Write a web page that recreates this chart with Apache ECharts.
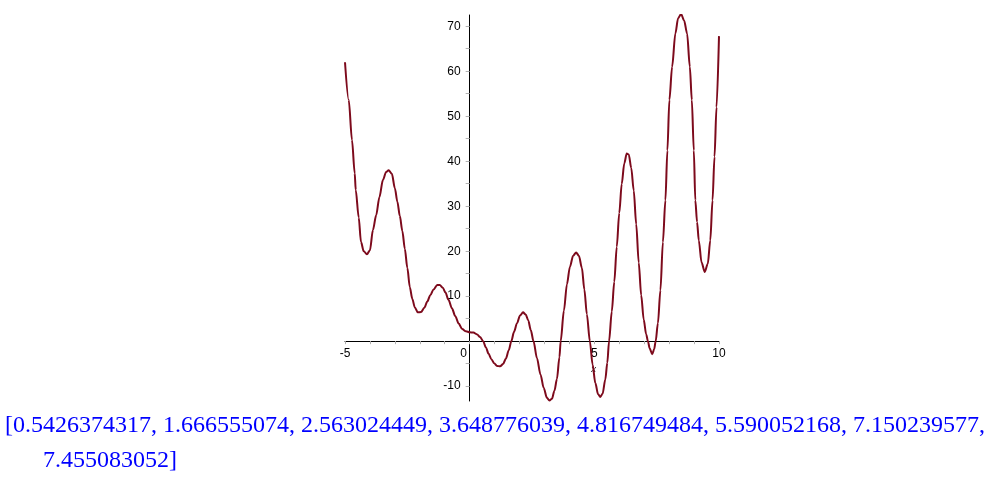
<!DOCTYPE html>
<html>
<head>
<meta charset="utf-8">
<script src="https://cdn.jsdelivr.net/npm/echarts@6/dist/echarts.min.js"></script>
<style>
html,body{margin:0;padding:0;background:#fff;}
#c{width:999px;height:478px;}
</style>
</head>
<body>
<div id="c"></div>
<script>
// x values of sampled curve points
var xValues = [-5.0,-4.85,-4.72,-4.61,-4.57,-4.45,-4.36,-4.25,-4.12,-4.0,-3.88,-3.75,-3.62,-3.48,-3.35,-3.25,-3.12,-3.0,-2.9,-2.8,-2.7,-2.6,-2.5,-2.4,-2.3,-2.2,-2.08,-1.95,-1.82,-1.7,-1.58,-1.45,-1.3,-1.2,-1.08,-0.97,-0.85,-0.71,-0.58,-0.44,-0.3,-0.15,0,0.15,0.3,0.42,0.54,0.65,0.76,0.87,0.98,1.1,1.22,1.34,1.45,1.57,1.67,1.78,1.9,2.02,2.14,2.25,2.35,2.45,2.56,2.7,2.84,2.97,3.1,3.2,3.3,3.4,3.5,3.6,3.65,3.78,3.9,4.02,4.15,4.27,4.38,4.5,4.6,4.7,4.82,4.93,5.04,5.15,5.24,5.33,5.44,5.52,5.59,5.7,5.8,5.9,6.0,6.1,6.2,6.3,6.38,6.48,6.58,6.68,6.78,6.88,6.98,7.08,7.15,7.22,7.32,7.4,7.46,7.55,7.65,7.75,7.85,7.93,8.01,8.12,8.25,8.36,8.48,8.6,8.72,8.83,8.91,8.99,9.05,9.12,9.19,9.3,9.43,9.55,9.65,9.74,9.82,9.9,10.0];
// y values of sampled curve points
var yValues = [62.0,53.6,44.7,37.3,33.6,27.5,22.1,20.0,19.3,20.2,24.7,28.0,32.0,35.8,37.6,38.0,37.2,34.0,31.0,27.8,24.5,20.5,16.3,12.0,9.4,7.5,6.4,6.5,7.4,8.8,10.2,11.5,12.5,12.5,11.9,10.8,9.2,7.3,5.6,3.9,2.7,2.2,2.0,1.9,1.5,0.9,0,-1.4,-2.8,-4.0,-4.9,-5.5,-5.6,-5.1,-3.9,-2.0,0,2.1,4.0,5.7,6.4,5.9,4.6,2.5,0,-3.8,-7.4,-10.4,-12.6,-13.2,-12.8,-11.0,-8.4,-3.6,0,6.8,12.6,16.5,19.0,19.7,19.0,16.3,11.5,6.0,0,-5.2,-9.3,-11.8,-12.4,-11.7,-8.5,-4.8,0,6.6,13.2,21.0,28.5,35.0,39.5,41.7,41.5,38.5,33.5,26.0,17.5,10.2,4.8,1.5,0,-1.6,-2.9,-1.8,0,4.0,11.3,22.0,31.3,42.4,53.6,61.0,68.4,71.8,72.7,71.3,68.4,61.0,53.6,42.4,31.3,26.5,22.4,17.5,15.4,17.2,22.4,31.3,41.0,52.0,67.8];
var xMin = -5, xMax = 10;
var yMin = -13.3, yMax = 72.5;
var xTickLabels = [-5, 0, 5, 10];
var yTickLabels = [-10, 10, 20, 30, 40, 50, 60, 70];
var yTicks = [-10, -5, 5, 10, 15, 20, 25, 30, 35, 40, 45, 50, 55, 60, 65, 70];
var rootsLine1 = '[0.5426374317, 1.666555074, 2.563024449, 3.648776039, 4.816749484, 5.590052168, 7.150239577,';
var rootsLine2 = '7.455083052]';

var data = xValues.map(function (x, i) { return [x, yValues[i]]; });

var W = 999, H = 478;
var grid = {left: 345, right: 280, top: 15, bottom: 77};
var gw = W - grid.left - grid.right, gh = H - grid.top - grid.bottom;
// axes cross at the origin: shift each axis from the grid edge to zero
var xAxisOffset = -((0 - yMin) / (yMax - yMin)) * gh;
var yAxisOffset = -((0 - xMin) / (xMax - xMin)) * gw;

var chart = echarts.init(document.getElementById('c'), null, {renderer: 'canvas'});
var textItems = [
  {type: 'text', left: 5, top: 414, style: {text: rootsLine1, font: '24px "Liberation Serif"', fill: '#0000ff'}},
  {type: 'text', left: 43, top: 449, style: {text: rootsLine2, font: '24px "Liberation Serif"', fill: '#0000ff'}}
];
chart.setOption({
  animation: false,
  backgroundColor: '#ffffff',
  grid: {left: grid.left, right: grid.right, top: grid.top, bottom: grid.bottom, containLabel: false, outerBoundsMode: 'none'},
  xAxis: {
    type: 'value', min: xMin, max: xMax, interval: 1, position: 'bottom', offset: xAxisOffset,
    axisLine: {onZero: false, lineStyle: {color: '#000', width: 1}},
    axisTick: {show: true, length: 3, lineStyle: {color: '#b0b0b0'}},
    splitLine: {show: false},
    axisLabel: {
      customValues: xTickLabels,
      margin: 7, color: '#000', fontSize: 12, fontFamily: 'Liberation Sans',
      formatter: function (v) { return v === 0 ? '{z|0}' : String(v); },
      rich: {z: {fontSize: 12, fontFamily: 'Liberation Sans', color: '#000', padding: [0, 12, 0, 0]}}
    }
  },
  yAxis: {
    type: 'value', min: yMin, max: yMax, position: 'left', offset: yAxisOffset,
    axisLine: {onZero: false, lineStyle: {color: '#000', width: 1}},
    axisTick: {show: true, length: 4, customValues: yTicks, lineStyle: {color: '#b0b0b0'}},
    splitLine: {show: false},
    axisLabel: {customValues: yTickLabels, margin: 9, color: '#000', fontSize: 12, fontFamily: 'Liberation Sans'}
  },
  series: [{
    type: 'line', data: data, showSymbol: false, smooth: 0.3, smoothMonotone: 'x',
    lineStyle: {color: '#7d0a1c', width: 2}
  }],
  graphic: textItems
});
var p = chart.convertToPixel({gridIndex: 0}, [5, 0]);
chart.setOption({graphic: textItems.concat([
  {type: 'text', x: p[0] - 3, y: p[1] + 22, style: {text: 'x', font: 'italic 11px "Liberation Serif"', fill: '#000'}}
])});
</script>
</body>
</html>
